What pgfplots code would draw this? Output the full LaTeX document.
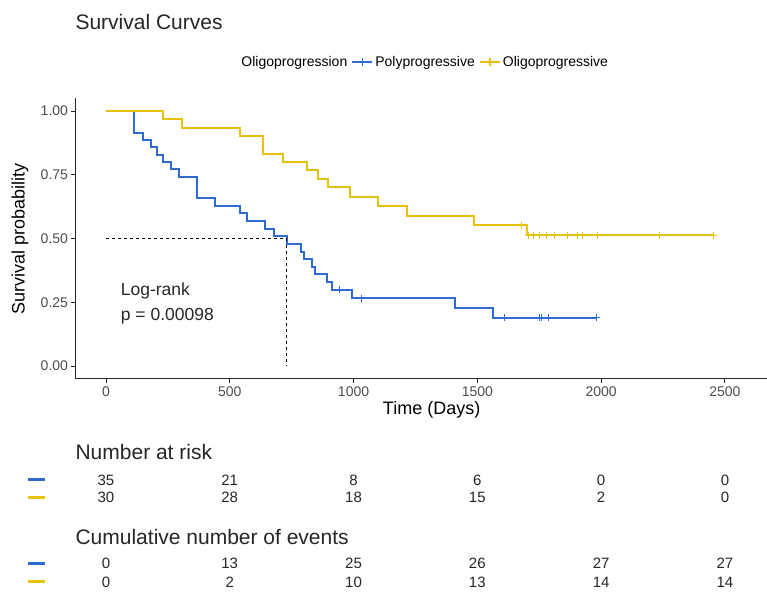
\documentclass[border=0pt]{standalone}
\usepackage{fontspec}
\setmainfont{Liberation Sans}
\usepackage{pgfplots}
\pgfplotsset{compat=1.18}
\definecolor{polyblue}{HTML}{2E6BD1}
\definecolor{oligoyel}{HTML}{E6C20A}
\begin{document}
\begin{tikzpicture}[x=1pt,y=1pt]
\useasboundingbox (-75.5,-218.25) rectangle (691.5,378.75);
\begin{axis}[
  at={(0,0)}, anchor=south west,
  scale only axis, width=691.5pt, height=280.5pt,
  xmin=-123, xmax=2670, ymin=-0.05, ymax=1.05,
  clip=false,
  axis x line*=bottom, axis y line*=left,
  axis line style={line width=1.1pt, black!85},
  xtick={0,500,1000,1500,2000,2500},
  ytick={0,0.25,0.5,0.75,1},
  tick align=outside, major tick length=4pt,
  tick style={line width=0.9pt, black!85},
  /pgf/number format/assume math mode=true,
  /pgf/number format/1000 sep={},
  ticklabel style={font=\fontsize{14}{16}\selectfont, text=black!70},
  yticklabel style={/pgf/number format/fixed, /pgf/number format/fixed zerofill, /pgf/number format/precision=2},
  xlabel={Time (Days)},
  ylabel={Survival probability},
  xlabel style={at={(axis description cs:0.515,-0.111)}, anchor=center, font=\fontsize{18}{21}\selectfont},
  ylabel style={at={(axis description cs:-0.0803,0.5)}, anchor=center, font=\fontsize{18}{21}\selectfont},
  legend columns=-1,
  legend style={at={(axis description cs:0.505,1.129)}, anchor=center, draw=none, fill=none,
    font=\fontsize{14}{16}\selectfont,
    /tikz/every even column/.append style={column sep=2pt}},
]
\addlegendimage{empty legend}
\addlegendentry{Oligoprogression}
% Polyprogressive
\addplot[const plot, polyblue, line width=2pt,
  legend image code/.code={\draw[polyblue, line width=2pt] (0pt,0pt) -- (20pt,0pt); \draw[polyblue, line width=1.2pt] (10pt,-4pt) -- (10pt,4pt);}]
coordinates {
(0,1.000) (113,0.914) (150,0.886) (180,0.857) (205,0.829) (232,0.800)
(262,0.771) (295,0.743) (366,0.657) (440,0.629) (543,0.599) (570,0.569)
(643,0.539) (677,0.509) (730,0.479) (787,0.449) (801,0.419) (831,0.389)
(845,0.359) (892,0.329) (912,0.299) (995,0.266) (1409,0.228) (1564,0.190)
(1980,0.190)
};
\addlegendentry{Polyprogressive}
% Oligoprogressive
\addplot[const plot, oligoyel, line width=2pt,
  legend image code/.code={\draw[oligoyel, line width=2pt] (0pt,0pt) -- (20pt,0pt); \draw[oligoyel, line width=1.2pt] (10pt,-4pt) -- (10pt,4pt);}]
coordinates {
(0,1.000) (232,0.967) (306,0.933) (541,0.900) (635,0.833) (716,0.800)
(811,0.767) (855,0.733) (895,0.700) (985,0.663) (1100,0.626) (1214,0.589)
(1487,0.552) (1700,0.513) (2452,0.513)
};
\addlegendentry{Oligoprogressive}
% censor marks
\addplot[only marks, mark=+, mark size=3.5pt, polyblue, line width=1pt, forget plot]
coordinates {(945,0.299) (1033,0.266) (1611,0.190) (1753,0.190) (1760,0.190) (1786,0.190) (1980,0.190)};
\addplot[only marks, mark=+, mark size=3.5pt, oligoyel, line width=1pt, forget plot]
coordinates {(1680,0.552) (1705,0.513) (1725,0.513) (1750,0.513) (1780,0.513) (1812,0.513)
(1866,0.513) (1905,0.513) (1925,0.513) (1985,0.513) (2237,0.513) (2452,0.513)};
% median lines
\addplot[black, dashed, line width=0.9pt, forget plot] coordinates {(0,0.5) (730,0.5)};
\addplot[black, dashed, line width=0.9pt, forget plot] coordinates {(730,0.5) (730,0)};
% annotations
\node[anchor=west, font=\fontsize{17.5}{20}\selectfont, text=black!85] at (axis cs:46,0.294) {Log-rank};
\node[anchor=west, font=\fontsize{17.5}{20}\selectfont, text=black!85] at (axis cs:46,0.196) {p = 0.00098};
\node[anchor=west, font=\fontsize{21}{24}\selectfont, text=black!85] at (axis cs:-137,1.349) {Survival Curves};
\node[anchor=west, font=\fontsize{21}{24}\selectfont, text=black!85] at (axis cs:-137,-0.337) {Number at risk};
\node[anchor=west, font=\fontsize{21}{24}\selectfont, text=black!85] at (axis cs:-137,-0.671) {Cumulative number of events};
% risk table markers
\addplot[polyblue, line width=3pt, forget plot] coordinates {(-315,-0.447) (-246,-0.447)};
\addplot[oligoyel, line width=3pt, forget plot] coordinates {(-315,-0.514) (-246,-0.514)};
\addplot[polyblue, line width=3pt, forget plot] coordinates {(-315,-0.773) (-246,-0.773)};
\addplot[oligoyel, line width=3pt, forget plot] coordinates {(-315,-0.847) (-246,-0.847)};
% risk table numbers
\addplot[draw=none, mark=none, forget plot, point meta=explicit symbolic, nodes near coords,
  every node near coord/.append style={anchor=center, font=\fontsize{15}{17}\selectfont, text=black!85}]
coordinates {
(0,-0.447)[35] (500,-0.447)[21] (1000,-0.447)[8] (1500,-0.447)[6] (2000,-0.447)[0] (2500,-0.447)[0]
(0,-0.514)[30] (500,-0.514)[28] (1000,-0.514)[18] (1500,-0.514)[15] (2000,-0.514)[2] (2500,-0.514)[0]
(0,-0.773)[0] (500,-0.773)[13] (1000,-0.773)[25] (1500,-0.773)[26] (2000,-0.773)[27] (2500,-0.773)[27]
(0,-0.847)[0] (500,-0.847)[2] (1000,-0.847)[10] (1500,-0.847)[13] (2000,-0.847)[14] (2500,-0.847)[14]
};
\end{axis}
\end{tikzpicture}
\end{document}
